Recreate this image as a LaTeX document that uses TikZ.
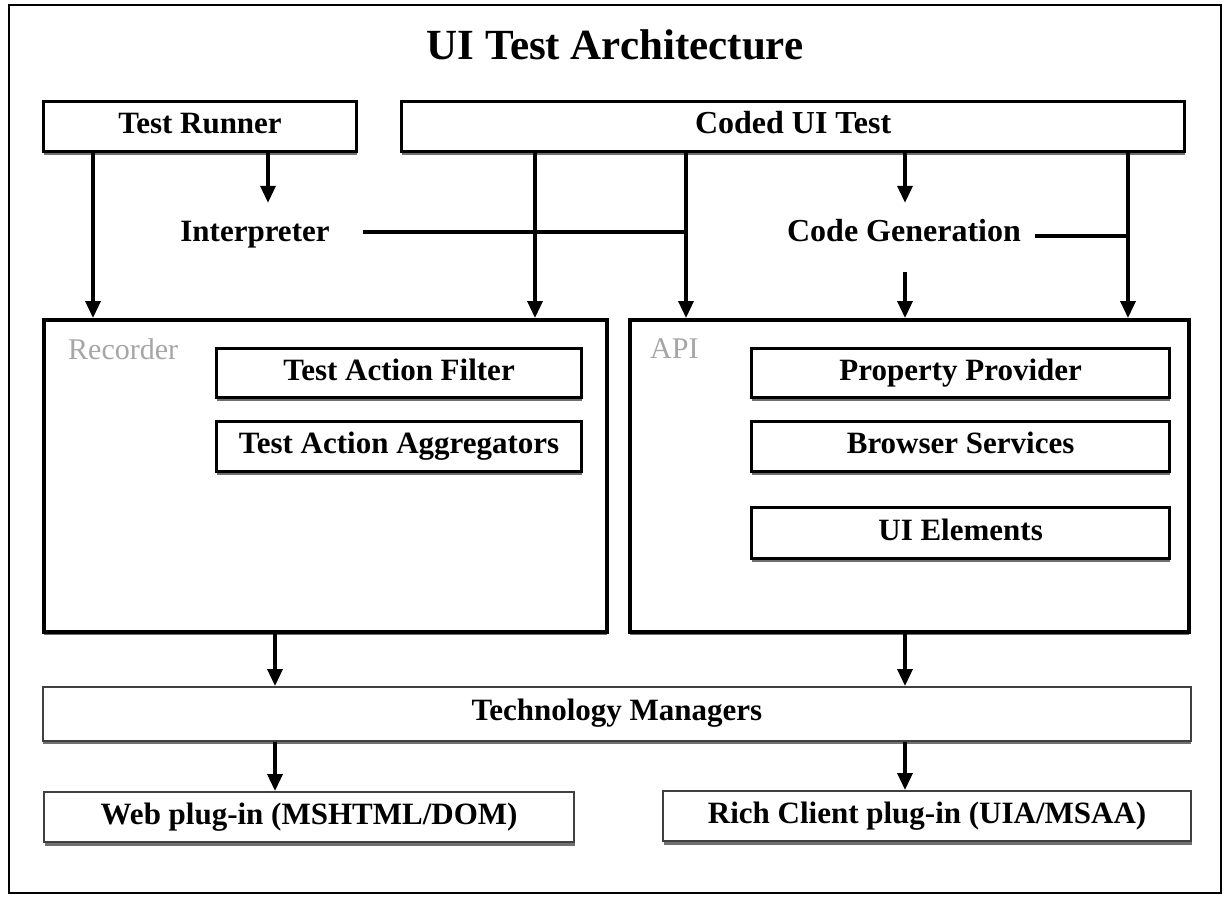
\documentclass[tikz,border=0pt]{standalone}
\usepackage{fontspec}
\setmainfont{Liberation Serif}
\usetikzlibrary{arrows.meta,shadows,calc}
\tikzset{
  sh/.style={drop shadow={shadow xshift=0.5pt, shadow yshift=-3.5pt, opacity=0.75, fill=black!75}},
  txt/.style={font=\bfseries\fontsize{31}{36}\selectfont, text height=21pt, text depth=7pt},
  box/.style={draw=black, line width=3.2pt, fill=white, sh, anchor=north west, inner sep=0pt, txt},
  bigbox/.style={draw=black, line width=3.6pt, fill=white, sh, anchor=north west, inner sep=0pt},
  lightbox/.style={draw=black!75, line width=1.8pt, fill=white, sh, anchor=north west, inner sep=0pt, txt},
  lbl/.style={inner sep=0pt, txt},
  grey/.style={font=\fontsize{30}{36}\selectfont, text=black!35, anchor=north west, inner sep=0pt},
  arr/.style={line width=3.4pt, -{Triangle[width=15pt,length=17pt]}},
  ln/.style={line width=3.4pt},
}
\begin{document}
\begin{tikzpicture}[x=1pt,y=-1pt]
\useasboundingbox (0,0) rectangle (1226,898);
\draw[line width=1.8pt] (9,5) rectangle (1221,893);
\node[font=\bfseries\fontsize{43}{50}\selectfont, inner sep=0pt] (title) at (615,45) {UI Test Architecture};

% top boxes
\node[box, minimum width=313pt, minimum height=50pt] (tr) at (42,100) {Test Runner};
\node[box, minimum width=783pt, minimum height=50pt] (cui) at (400,100) {\fontsize{32}{36}\selectfont Coded UI Test};

% middle labels
\node[lbl] (interp) at (255,234) {Interpreter};
\node[lbl] (cg) at (904,234) {\fontsize{32}{36}\selectfont Code Generation};

% big boxes
\node[bigbox, minimum width=563pt, minimum height=312pt] (rec) at (42,318) {};
\node[bigbox, minimum width=559pt, minimum height=312pt] (api) at (628,318) {};
\node[grey] (reclbl) at (68,338) {Recorder};
\node[grey] (apilbl) at (650,338) {API};

\node[box, minimum width=365pt, minimum height=49pt] (taf) at (215,347) {Test Action Filter};
\node[box, minimum width=365pt, minimum height=50pt] (taa) at (215,420) {Test Action Aggregators};
\node[box, minimum width=418pt, minimum height=49pt] (pp) at (750,347) {Property Provider};
\node[box, minimum width=418pt, minimum height=50pt] (bs) at (750,420) {Browser Services};
\node[box, minimum width=418pt, minimum height=51pt] (uie) at (750,506) {UI Elements};

% technology managers and plug-ins
\node[lightbox, minimum width=1148pt, minimum height=54pt] (tm) at (42,686) {Technology Managers};
\node[lightbox, line width=2.2pt, minimum width=530pt, minimum height=50pt] (web) at (43,791) {Web plug-in (MSHTML/DOM)};
\node[lightbox, line width=2.2pt, minimum width=528pt, minimum height=50pt] (rich) at (662,790) {Rich Client plug-in (UIA/MSAA)};

% x positions of connectors
\coordinate (xa) at (93,0);
\coordinate (xb) at (268,0);
\coordinate (xc) at (535,0);
\coordinate (xd) at (686,0);
\coordinate (xe) at (905,0);
\coordinate (xf) at (1128,0);
\coordinate (xg) at (275,0);

% connectors
\draw[arr] (tr.south -| xa) -- (rec.north -| xa);
\draw[arr] (tr.south -| xb) -- ($(interp.north -| xb)+(0,-17)$);
\draw[arr] (cui.south -| xc) -- (rec.north -| xc);
\draw[arr] (cui.south -| xd) -- (api.north -| xd);
\draw[arr] (cui.south -| xe) -- ($(cg.north -| xe)+(0,-17)$);
\draw[arr] (cui.south -| xf) -- (api.north -| xf);
\draw[ln] ($(interp.east)+(33,-2)$) -- ($(interp.east -| xd)+(0,-2)$);
\draw[ln] ($(cg.east)+(14,2)$) -- ($(cg.east -| xf)+(0,2)$);
\draw[arr] ($(cg.south -| xe)+(0,24)$) -- (api.north -| xe);

\draw[arr] (rec.south -| xg) -- (tm.north -| xg);
\draw[arr] (api.south -| xe) -- (tm.north -| xe);
\draw[arr] (tm.south -| xg) -- (web.north -| xg);
\draw[arr] (tm.south -| xe) -- (rich.north -| xe);
\end{tikzpicture}
\end{document}
